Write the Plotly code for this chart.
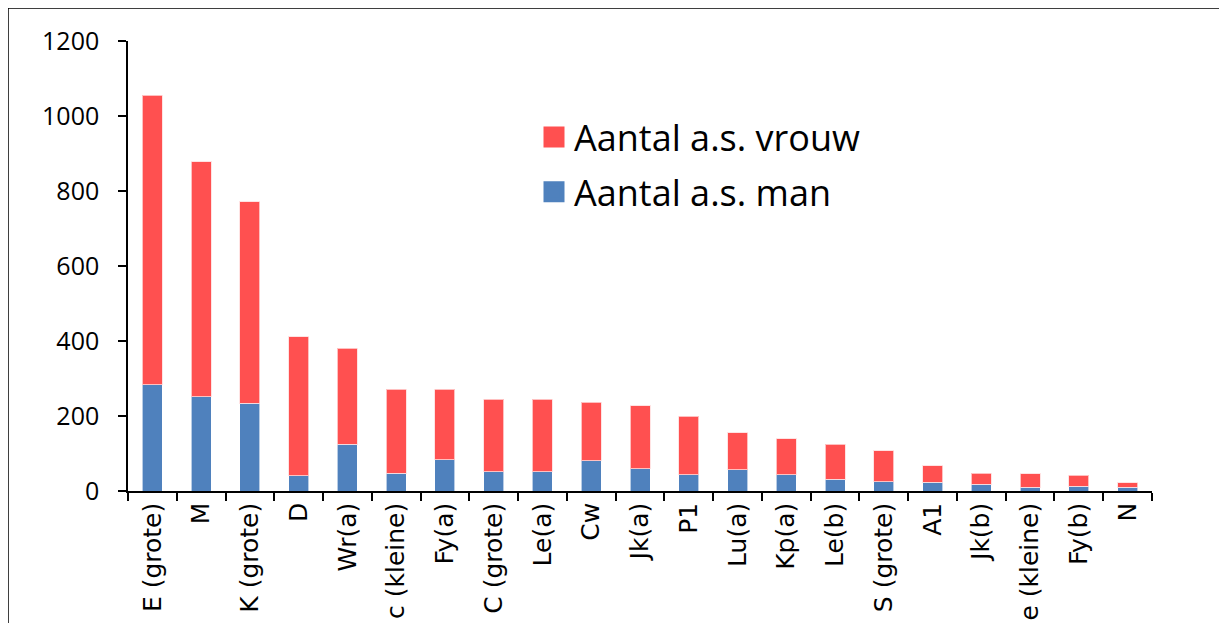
import plotly.graph_objects as go

categories = ["E (grote)", "M", "K (grote)", "D", "Wr(a)", "c (kleine)", "Fy(a)", "C (grote)",
              "Le(a)", "Cw", "Jk(a)", "P1", "Lu(a)", "Kp(a)", "Le(b)", "S (grote)", "A1",
              "Jk(b)", "e (kleine)", "Fy(b)", "N"]
totaal = [1056, 878, 771, 411, 381, 272, 271, 245, 245, 237, 228, 200, 156, 140, 125, 108, 67,
          48, 46, 42, 22]
man = [283, 251, 234, 41, 125, 47, 84, 52, 52, 81, 60, 44, 57, 44, 32, 25, 23, 18, 10, 13, 10]
vrouw = [t - m for t, m in zip(totaal, man)]

RED = "#FF5050"
BLUE = "#4F81BD"

# page offset (browser body margin)
OFF = 8
W, H = 1227, 623
# plot area in screenshot pixels: x 128..1152, y 41..491
ML = 128 - OFF
MT = 41 - OFF
MR = W - (1152 - OFF)
MB = H - (491 - OFF)
pw, ph = W - ML - MR, H - MT - MB

def px_x(p):
    return (p - OFF - ML) / pw

def px_y(p):
    return (H - MB - (p - OFF)) / ph

fig = go.Figure()
fig.add_trace(go.Bar(x=categories, y=man, name="Aantal a.s. man", showlegend=False,
                     marker=dict(color=BLUE, line=dict(color="rgba(255,255,255,0.6)", width=1))))
fig.add_trace(go.Bar(x=categories, y=vrouw, name="Aantal a.s. vrouw", showlegend=False,
                     marker=dict(color=RED, line=dict(color="rgba(255,220,220,0.8)", width=1))))
# legend entries (vrouw listed first, as in the original)
for nm, col in [("Aantal a.s. vrouw", RED), ("Aantal a.s. man", BLUE)]:
    fig.add_trace(go.Scatter(x=[None], y=[None], mode="markers", name=nm, legendgroup=nm,
                             marker=dict(symbol="square", size=16, color=col,
                                         line=dict(color=col, width=5))))

fig.update_layout(
    barmode="stack",
    bargap=0.59,
    width=W, height=H,
    margin=dict(l=ML, r=MR, t=MT, b=MB, autoexpand=False),
    paper_bgcolor="white", plot_bgcolor="white",
    font=dict(family="Open Sans, DejaVu Sans, sans-serif", color="black"),
    legend=dict(x=px_x(534), y=px_y(107), xanchor="left", yanchor="top",
                traceorder="grouped", font=dict(size=36, family="Open Sans"),
                bgcolor="rgba(0,0,0,0)", tracegroupgap=5, itemwidth=30),
    showlegend=True,
)
fig.update_xaxes(
    type="category", tickangle=-90, tickfont=dict(size=25, family="DejaVu Sans"),
    showline=True, linecolor="black", linewidth=1.5, ticks="outside", tickson="boundaries",
    ticklen=8, tickcolor="black", tickwidth=1.5, showgrid=False, zeroline=False,
)
fig.update_yaxes(
    range=[0, 1200], dtick=200, tickfont=dict(size=25, family="Open Sans"),
    showline=True, linecolor="black", linewidth=1.5, ticks="outside", ticklen=8,
    tickcolor="black", tickwidth=1.5, showgrid=False, zeroline=False,
    ticklabelstandoff=14,
)
fig.add_shape(type="rect", xref="paper", yref="paper",
              x0=px_x(8), x1=px_x(1222), y0=px_y(660), y1=px_y(8),
              line=dict(color="black", width=1.5), fillcolor="rgba(0,0,0,0)", layer="below")

fig.write_html("out.html")
